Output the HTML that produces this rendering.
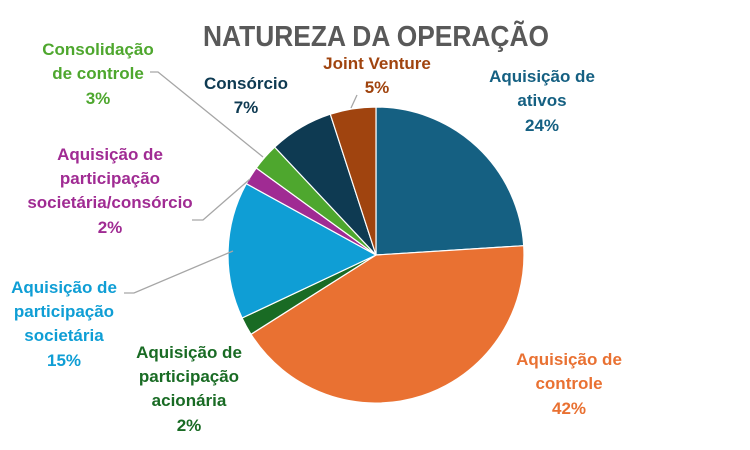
<!DOCTYPE html>
<html><head><meta charset="utf-8"><style>
body{margin:0;background:#fff;}
svg{display:block;font-family:"Liberation Sans",sans-serif;font-weight:bold;}
</style></head><body>
<svg width="750" height="450" viewBox="0 0 750 450">
<rect width="750" height="450" fill="#fff"/>
<text x="203" y="46" font-size="29" fill="#595959" textLength="346" lengthAdjust="spacingAndGlyphs">NATUREZA DA OPERAÇÃO</text>
<g stroke="#fff" stroke-width="1.2">
<path d="M376,255 L376,107 A148,148 0 0 1 523.7,245.7 Z" fill="#156082"/>
<path d="M376,255 L523.7,245.7 A148,148 0 0 1 251.0,334.3 Z" fill="#E97132"/>
<path d="M376,255 L251.0,334.3 A148,148 0 0 1 242.1,318.0 Z" fill="#196B24"/>
<path d="M376,255 L242.1,318.0 A148,148 0 0 1 246.3,183.7 Z" fill="#0F9ED5"/>
<path d="M376,255 L246.3,183.7 A148,148 0 0 1 256.3,168.0 Z" fill="#A02B93"/>
<path d="M376,255 L256.3,168.0 A148,148 0 0 1 274.7,147.1 Z" fill="#4EA72E"/>
<path d="M376,255 L274.7,147.1 A148,148 0 0 1 330.3,114.2 Z" fill="#0E3A52"/>
<path d="M376,255 L330.3,114.2 A148,148 0 0 1 376,107 Z" fill="#A0440F"/>
</g>
<g stroke="#a6a6a6" stroke-width="1.3" fill="none">
<polyline points="150,72 158,72 263,157"/>
<polyline points="192,220 203,220 250,179"/>
<polyline points="124,293 134,293 233,251"/>
<polyline points="351,108 357,95"/>
</g>
<g font-size="17" text-anchor="middle">
<text fill="#156082"><tspan x="542" y="82">Aquisição de</tspan><tspan x="542" y="106">ativos</tspan><tspan x="542" y="131">24%</tspan></text>
<text fill="#E97132"><tspan x="569" y="365">Aquisição de</tspan><tspan x="569" y="389">controle</tspan><tspan x="569" y="414">42%</tspan></text>
<text fill="#196B24"><tspan x="189" y="358">Aquisição de</tspan><tspan x="189" y="382">participação</tspan><tspan x="189" y="406">acionária</tspan><tspan x="189" y="431">2%</tspan></text>
<text fill="#0F9ED5"><tspan x="64" y="293">Aquisição de</tspan><tspan x="64" y="317">participação</tspan><tspan x="64" y="341">societária</tspan><tspan x="64" y="366">15%</tspan></text>
<text fill="#A02B93"><tspan x="110" y="160">Aquisição de</tspan><tspan x="110" y="184">participação</tspan><tspan x="110" y="208">societária/consórcio</tspan><tspan x="110" y="233">2%</tspan></text>
<text fill="#4EA72E"><tspan x="98" y="55">Consolidação</tspan><tspan x="98" y="79">de controle</tspan><tspan x="98" y="104">3%</tspan></text>
<text fill="#0E3A52"><tspan x="246" y="89">Consórcio</tspan><tspan x="246" y="113">7%</tspan></text>
<text fill="#A0440F"><tspan x="377" y="69">Joint Venture</tspan><tspan x="377" y="93">5%</tspan></text>
</g>
</svg>
</body></html>
